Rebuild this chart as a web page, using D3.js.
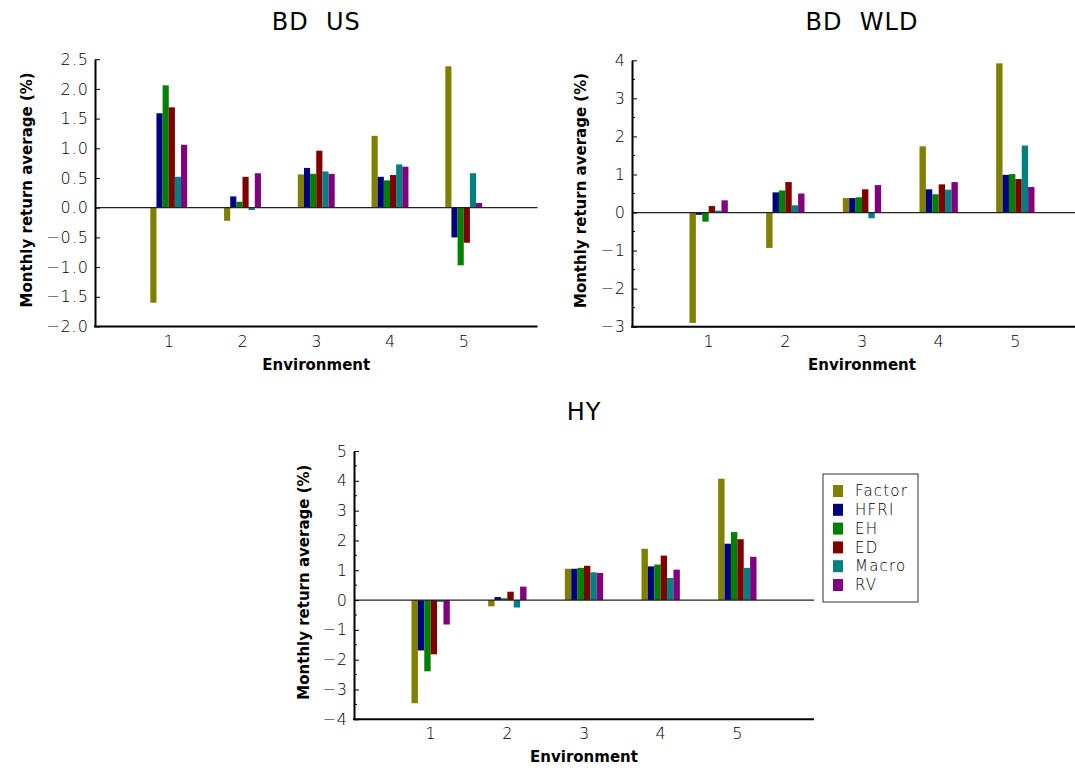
<!DOCTYPE html>
<html>
<head>
<meta charset="utf-8">
<script src="https://cdn.jsdelivr.net/npm/d3@7"></script>
<style>
  body { margin: 0; background: #fff; }
  svg { display: block; font-family: "DejaVu Sans", sans-serif; }
</style>
</head>
<body>
<svg id="chart" width="1075" height="768"></svg>
<script>
// categories and series
const environments = [1, 2, 3, 4, 5];
const seriesNames = ["Factor", "HFRI", "EH", "ED", "Macro", "RV"];
const seriesColors = ["#808000", "#000080", "#008000", "#800000", "#008080", "#800080"];

// values per series (rows) per environment (columns), monthly return average in %
const bdUsValues = [
  [-1.60, -0.22, 0.56, 1.21, 2.38],  // Factor
  [1.59, 0.19, 0.67, 0.52, -0.50],   // HFRI
  [2.06, 0.10, 0.57, 0.46, -0.97],   // EH
  [1.69, 0.52, 0.96, 0.55, -0.59],   // ED
  [0.52, -0.04, 0.61, 0.73, 0.58],   // Macro
  [1.06, 0.58, 0.57, 0.69, 0.08]     // RV
];
const bdWldValues = [
  [-2.90, -0.93, 0.38, 1.74, 3.92],
  [-0.06, 0.53, 0.38, 0.61, 0.99],
  [-0.24, 0.58, 0.40, 0.48, 1.01],
  [0.17, 0.80, 0.61, 0.74, 0.88],
  [0.05, 0.19, -0.15, 0.60, 1.76],
  [0.32, 0.50, 0.72, 0.80, 0.67]
];
const hyValues = [
  [-3.46, -0.21, 1.05, 1.72, 4.07],
  [-1.69, 0.10, 1.05, 1.13, 1.89],
  [-2.39, 0.06, 1.08, 1.19, 2.28],
  [-1.82, 0.28, 1.15, 1.49, 2.04],
  [-0.06, -0.25, 0.93, 0.74, 1.08],
  [-0.82, 0.45, 0.91, 1.02, 1.45]
];

// tick labels
const bdUsTicks = [-2.0, -1.5, -1.0, -0.5, 0.0, 0.5, 1.0, 1.5, 2.0, 2.5];
const bdWldTicks = [-3, -2, -1, 0, 1, 2, 3, 4];
const hyTicks = [-4, -3, -2, -1, 0, 1, 2, 3, 4, 5];

const svg = d3.select("#chart");

function drawPanel(cfg) {
  const g = svg.append("g");
  const x = d3.scaleLinear().domain([0, 6]).range([cfg.left, cfg.left + cfg.width]);
  const y = d3.scaleLinear().domain(cfg.domain).range([cfg.bottom, cfg.top]);
  const step = x(1) - x(0);
  const groupW = step * 0.5;
  const barW = groupW / seriesNames.length;

  // bars
  cfg.values.forEach((row, si) => {
    g.selectAll(null)
      .data(row)
      .join("rect")
      .attr("x", (d, i) => x(environments[i]) - groupW / 2 + si * barW)
      .attr("width", barW)
      .attr("y", d => y(Math.max(0, d)))
      .attr("height", d => Math.abs(y(d) - y(0)))
      .attr("fill", seriesColors[si]);
  });

  // zero line
  g.append("line")
    .attr("x1", cfg.left).attr("x2", cfg.left + cfg.width)
    .attr("y1", y(0)).attr("y2", y(0))
    .attr("stroke", "#222").attr("stroke-width", 1.2);

  // minor ticks
  if (cfg.minor) {
    const minor = cfg.ticks.slice(0, -1).map(t => t + 0.5);
    g.selectAll(null).data(minor).join("line")
      .attr("x1", cfg.left).attr("x2", cfg.left + 3)
      .attr("y1", d => y(d)).attr("y2", d => y(d))
      .attr("stroke", "#000").attr("stroke-width", 1);
  }

  // y axis, ticks inward
  const yAxis = d3.axisLeft(y)
    .tickValues(cfg.ticks)
    .tickFormat(d3.format(cfg.fmt))
    .tickSizeInner(-5)
    .tickSizeOuter(0)
    .tickPadding(7);
  const ya = g.append("g")
    .attr("transform", `translate(${cfg.left},0)`)
    .call(yAxis);
  ya.select(".domain").attr("stroke", "#000").attr("stroke-width", 2);
  ya.selectAll(".tick line").attr("stroke", "#000");
  ya.selectAll(".tick text")
    .attr("x", -6)
    .attr("text-anchor", "end")
    .attr("font-size", 16)
    .attr("font-weight", 200)
    .attr("letter-spacing", 1)
    .attr("font-family", "'DejaVu Sans', sans-serif")
    .attr("fill", "#000");

  // x axis line at bottom with category labels
  g.append("line")
    .attr("x1", cfg.left - 1).attr("x2", cfg.left + cfg.width)
    .attr("y1", cfg.bottom).attr("y2", cfg.bottom)
    .attr("stroke", "#000").attr("stroke-width", 2);
  g.selectAll(null).data(environments).join("text")
    .attr("x", d => x(d))
    .attr("y", cfg.bottom + 20)
    .attr("text-anchor", "middle")
    .attr("font-size", 16)
    .attr("font-weight", 200)
    .attr("fill", "#000")
    .text(d => d);

  // axis titles
  g.append("text")
    .attr("x", cfg.left + cfg.width / 2)
    .attr("y", cfg.bottom + 43)
    .attr("text-anchor", "middle")
    .attr("font-size", 15)
    .attr("font-weight", "bold")
    .text("Environment");
  g.append("text")
    .attr("transform", `translate(${cfg.labelX},${(cfg.top + cfg.bottom) / 2 - 3}) rotate(-90)`)
    .attr("text-anchor", "middle")
    .attr("dy", "0.35em")
    .attr("font-size", 15)
    .attr("font-weight", "bold")
    .text("Monthly return average (%)");

  // panel title
  g.append("text")
    .attr("x", cfg.left + cfg.width / 2)
    .attr("y", cfg.titleY)
    .attr("text-anchor", "middle")
    .attr("font-size", 24)
    .attr("letter-spacing", 1)
    .style("white-space", "pre")
    .text(cfg.title);
}

drawPanel({ title: "BD  US", values: bdUsValues, ticks: bdUsTicks, domain: [-2, 2.5], fmt: ".1f", minor: false,
  left: 95, width: 442.5, top: 59.2, bottom: 326.5, labelX: 27, titleY: 30 });
drawPanel({ title: "BD  WLD", values: bdWldValues, ticks: bdWldTicks, domain: [-3, 4], fmt: "d", minor: true,
  left: 632, width: 460, top: 60.3, bottom: 326.7, labelX: 581, titleY: 30 });
drawPanel({ title: "HY", values: hyValues, ticks: hyTicks, domain: [-4, 5], fmt: "d", minor: true,
  left: 354, width: 460, top: 451, bottom: 719.3, labelX: 304, titleY: 420 });

// legend
const legend = svg.append("g").attr("transform", "translate(823,474)");
legend.append("rect")
  .attr("width", 95).attr("height", 128)
  .attr("fill", "#fff").attr("stroke", "#333").attr("stroke-width", 1);
const items = legend.selectAll(null).data(seriesNames).join("g")
  .attr("transform", (d, i) => `translate(10,${17 + i * 18.8})`);
items.append("rect")
  .attr("x", 0).attr("y", -6).attr("width", 10).attr("height", 12)
  .attr("fill", (d, i) => seriesColors[i]);
items.append("text")
  .attr("x", 22).attr("dy", "0.35em")
  .attr("font-size", 15)
  .attr("font-weight", 200)
  .attr("letter-spacing", 1.2)
  .attr("fill", "#000")
  .text(d => d);
</script>
</body>
</html>
